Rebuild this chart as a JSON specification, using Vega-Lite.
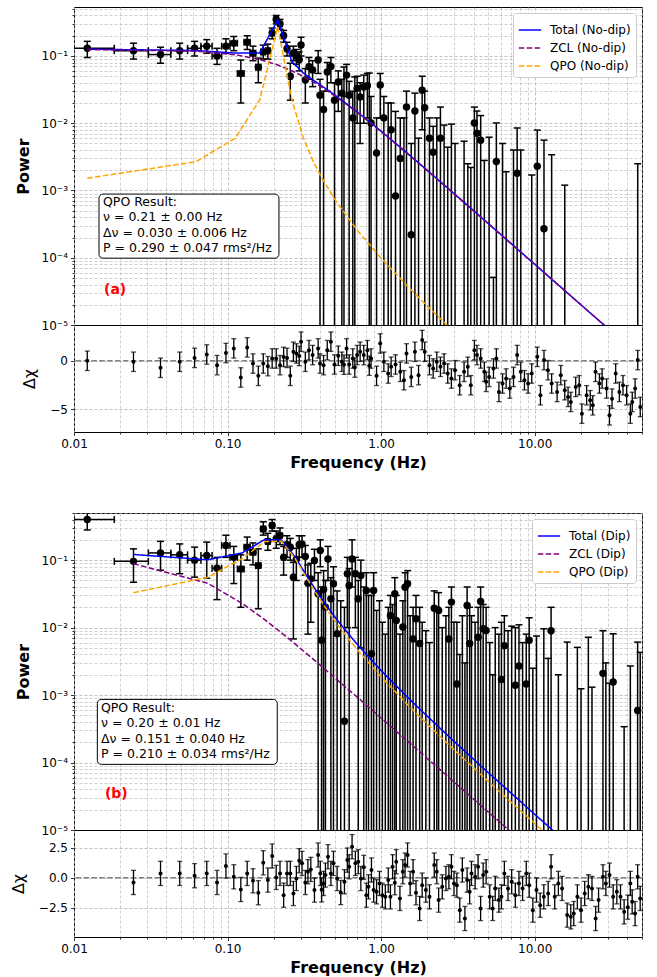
{
"$schema": "https://vega.github.io/schema/vega-lite/v6.json",
"padding": {"left": 9, "top": 2, "right": 5, "bottom": 2},
"config": {
  "font": "DejaVu Sans",
  "view": {"stroke": "black", "strokeWidth": 1},
  "axis": {"grid": true, "gridColor": "#b0b0b0", "gridDash": [3, 2], "gridWidth": 0.8, "domain": false, "tickColor": "black", "tickWidth": 0.8, "labelFontSize": 12, "labelColor": "black", "titleColor": "black", "labelFont": "DejaVu Sans", "titleFont": "DejaVu Sans", "labelPadding": 3}
},
"datasets": {
"a": [
{"f":0.0122,"fl":0.0061,"fh":0.0183,"p":0.13,"lo":0.095,"hi":0.165,"r":0.0,"e":1},
{"f":0.0244,"fl":0.0183,"fh":0.0305,"p":0.12,"lo":0.09,"hi":0.155,"r":-0.1,"e":1},
{"f":0.0366,"fl":0.0305,"fh":0.0427,"p":0.105,"lo":0.078,"hi":0.135,"r":-0.72,"e":1},
{"f":0.0488,"fl":0.0427,"fh":0.0549,"p":0.12,"lo":0.09,"hi":0.155,"r":-0.1,"e":1},
{"f":0.061,"fl":0.0549,"fh":0.0671,"p":0.13,"lo":0.1,"hi":0.165,"r":0.3,"e":1},
{"f":0.0732,"fl":0.0671,"fh":0.0793,"p":0.14,"lo":0.11,"hi":0.175,"r":0.65,"e":1},
{"f":0.0854,"fl":0.0793,"fh":0.0915,"p":0.1,"lo":0.075,"hi":0.13,"r":-0.45,"e":1},
{"f":0.0976,"fl":0.0915,"fh":0.1037,"p":0.14,"lo":0.11,"hi":0.18,"r":0.8,"e":1},
{"f":0.1098,"fl":0.1037,"fh":0.1159,"p":0.155,"lo":0.12,"hi":0.195,"r":1.28,"e":1},
{"f":0.122,"fl":0.1159,"fh":0.1281,"p":0.055,"lo":0.02,"hi":0.087,"r":-1.72,"e":1},
{"f":0.1342,"fl":0.1281,"fh":0.1403,"p":0.16,"lo":0.125,"hi":0.2,"r":1.38,"e":1},
{"f":0.1464,"fl":0.1403,"fh":0.1525,"p":0.11,"lo":0.085,"hi":0.14,"r":-0.28,"e":1},
{"f":0.1586,"fl":0.1525,"fh":0.1647,"p":0.068,"lo":0.04,"hi":0.093,"r":-1.55,"e":1},
{"f":0.1708,"fl":0.1647,"fh":0.1769,"p":0.115,"lo":0.09,"hi":0.145,"r":-0.28,"e":1},
{"f":0.183,"fl":0.1769,"fh":0.1891,"p":0.12,"lo":0.09,"hi":0.15,"r":-0.55,"e":1},
{"f":0.1952,"fl":0.1891,"fh":0.2013,"p":0.22,"lo":0.18,"hi":0.26,"r":0.24,"e":1},
{"f":0.2074,"fl":0.2013,"fh":0.2135,"p":0.35,"lo":0.3,"hi":0.4,"r":0.24,"e":1},
{"f":0.2196,"fl":0.2135,"fh":0.2257,"p":0.3,"lo":0.25,"hi":0.35,"r":-0.45,"e":1},
{"f":0.2318,"fl":0.2257,"fh":0.2379,"p":0.2,"lo":0.16,"hi":0.24,"r":0.4,"e":1},
{"f":0.244,"fl":0.2379,"fh":0.2501,"p":0.128,"lo":0.1,"hi":0.16,"r":0.3,"e":1},
{"f":0.2562,"fl":0.2501,"fh":0.2623,"p":0.05,"lo":0.022,"hi":0.078,"r":-1.55,"e":1},
{"f":0.2684,"fl":0.2623,"fh":0.2745,"p":0.11,"lo":0.085,"hi":0.14,"r":0.93,"e":1},
{"f":0.2806,"fl":0.2745,"fh":0.2867,"p":0.1,"lo":0.075,"hi":0.125,"r":0.76,"e":1},
{"f":0.2928,"fl":0.2867,"fh":0.2989,"p":0.088,"lo":0.06,"hi":0.115,"r":0.5,"e":1},
{"f":0.301,"p":0.146,"lo":0.1,"hi":0.19,"r":1.97,"e":1},
{"f":0.321,"p":0.044,"lo":0.02,"hi":0.065,"r":-0.1,"e":1},
{"f":0.339,"p":0.069,"lo":0.045,"hi":0.095,"r":1.1,"e":1},
{"f":0.358,"p":0.062,"lo":0.035,"hi":0.085,"r":0.59,"e":1},
{"f":0.389,"p":0.087,"lo":0.055,"hi":0.12,"r":1.28,"e":1},
{"f":0.4,"p":0.026,"lo":1e-7,"hi":0.045,"r":-0.28,"e":1},
{"f":0.422,"p":0.016,"lo":1e-7,"hi":0.03,"r":-0.45,"e":1},
{"f":0.446,"p":0.058,"lo":0.03,"hi":0.08,"r":1.1,"e":1},
{"f":0.471,"p":0.07,"lo":0.04,"hi":0.095,"r":1.97,"e":1},
{"f":0.497,"p":0.022,"lo":1e-7,"hi":0.04,"r":-0.38,"e":1},
{"f":0.526,"p":0.041,"lo":0.015,"hi":0.06,"r":0.52,"e":1},
{"f":0.555,"p":0.028,"lo":1e-7,"hi":0.045,"r":-0.1,"e":1},
{"f":0.573,"lo":1e-7,"hi":0.0686,"r":-0.4,"e":1},
{"f":0.596,"p":0.052,"lo":0.025,"hi":0.075,"r":1.28,"e":1},
{"f":0.619,"p":0.026,"lo":1e-7,"hi":0.042,"r":-0.38,"e":1},
{"f":0.654,"p":0.012,"lo":1e-7,"hi":0.03,"r":0.24,"e":1},
{"f":0.674,"lo":1e-7,"hi":0.0487,"r":-0.7,"e":1},
{"f":0.698,"p":0.033,"lo":0.01,"hi":0.05,"r":0.59,"e":1},
{"f":0.73,"p":0.0245,"lo":0.005,"hi":0.04,"r":0.93,"e":1},
{"f":0.771,"p":0.0345,"lo":0.01,"hi":0.052,"r":0.59,"e":1},
{"f":0.814,"p":0.036,"lo":0.012,"hi":0.055,"r":1.1,"e":1},
{"f":0.837,"lo":1e-7,"hi":0.0558,"r":-0.5,"e":1},
{"f":0.86,"p":0.0101,"lo":1e-7,"hi":0.025,"r":0.24,"e":1},
{"f":0.934,"p":0.0036,"lo":1e-7,"hi":0.012,"r":-1.55,"e":1},
{"f":0.987,"p":0.037,"lo":0.012,"hi":0.055,"r":1.79,"e":1},
{"f":1.042,"p":0.012,"lo":1e-7,"hi":0.025,"r":-0.1,"e":1},
{"f":1.112,"lo":1e-7,"hi":0.02,"r":-1.31,"e":1},
{"f":1.162,"p":0.008,"lo":1e-7,"hi":0.02,"r":-0.62,"e":1},
{"f":1.241,"p":0.00083,"lo":1e-7,"hi":0.015,"r":-0.38,"e":1},
{"f":1.333,"p":0.003,"lo":1e-7,"hi":0.012,"r":-1.14,"e":1},
{"f":1.408,"lo":1e-7,"hi":0.012,"r":-2.0,"e":1},
{"f":1.463,"p":0.0174,"lo":1e-7,"hi":0.03,"r":0.76,"e":1},
{"f":1.571,"p":0.00022,"lo":1e-7,"hi":0.005,"r":-1.66,"e":1},
{"f":1.66,"p":0.0152,"lo":1e-7,"hi":0.028,"r":0.93,"e":1},
{"f":1.753,"lo":1e-7,"hi":0.006,"r":-1.48,"e":1},
{"f":1.851,"p":0.031,"lo":0.008,"hi":0.05,"r":2.14,"e":1},
{"f":1.923,"p":0.017,"lo":1e-7,"hi":0.03,"r":0.93,"e":1},
{"f":2.065,"p":0.006,"lo":1e-7,"hi":0.012,"r":-0.45,"e":1},
{"f":2.183,"p":0.0037,"lo":1e-7,"hi":0.009,"r":-0.79,"e":1},
{"f":2.305,"lo":1e-7,"hi":0.012,"r":-0.1,"e":1},
{"f":2.434,"p":0.006,"lo":1e-7,"hi":0.0174,"r":-0.62,"e":1},
{"f":2.571,"lo":1e-7,"hi":0.0094,"r":-0.28,"e":1},
{"f":2.715,"lo":1e-7,"hi":0.0044,"r":-1.31,"e":1},
{"f":2.869,"lo":1e-7,"hi":0.0097,"r":-1.83,"e":1},
{"f":3.03,"lo":1e-7,"hi":0.005,"r":-0.97,"e":1},
{"f":3.25,"r":-2.52,"e":1},
{"f":3.47,"lo":1e-7,"hi":0.0054,"r":-1.14,"e":1},
{"f":3.67,"lo":1e-7,"hi":0.0025,"r":-0.62,"e":1},
{"f":3.84,"lo":1e-7,"hi":0.0022,"r":-2.52,"e":1},
{"f":4.05,"p":0.0101,"lo":1e-7,"hi":0.0174,"r":1.1,"e":1},
{"f":4.21,"p":0.0071,"lo":1e-7,"hi":0.0152,"r":0.59,"e":1},
{"f":4.45,"p":0.0056,"lo":1e-7,"hi":0.013,"r":0.24,"e":1},
{"f":4.7,"lo":1e-7,"hi":0.0028,"r":-1.14,"e":1},
{"f":4.83,"r":-2.17,"e":1},
{"f":5.05,"lo":1e-7,"hi":0.0062,"r":-1.66,"e":1},
{"f":5.39,"lo":1e-7,"hi":0.000051,"r":-0.79,"e":1},
{"f":5.63,"p":0.0027,"lo":1e-7,"hi":0.0101,"r":0.24,"e":1},
{"f":5.85,"r":-3.21,"e":1},
{"f":6.18,"lo":1e-7,"hi":0.005,"r":-2.34,"e":1},
{"f":6.52,"lo":1e-7,"hi":0.0019,"r":-1.83,"e":1},
{"f":6.89,"r":-2.86,"e":1},
{"f":7.28,"lo":1e-7,"hi":0.004,"r":-1.66,"e":1},
{"f":7.69,"p":0.0018,"lo":1e-7,"hi":0.0085,"r":0.59,"e":1},
{"f":8.12,"lo":1e-7,"hi":0.004,"r":-1.14,"e":1},
{"f":8.58,"r":-2.0,"e":1},
{"f":9.06,"r":-2.34,"e":1},
{"f":9.57,"lo":1e-7,"hi":0.0017,"r":-1.31,"e":1},
{"f":10.4,"p":0.0023,"lo":1e-7,"hi":0.0079,"r":0.41,"e":1},
{"f":10.9,"r":-3.55,"e":1},
{"f":11.5,"p":0.00027,"lo":1e-7,"hi":0.0056,"r":0.07,"e":1},
{"f":12.2,"r":-0.97,"e":1},
{"f":12.9,"lo":1e-7,"hi":0.0034,"r":-2.34,"e":1},
{"f":14.0,"r":-3.21,"e":1},
{"f":14.8,"r":-1.48,"e":1},
{"f":15.7,"lo":1e-7,"hi":0.0012,"r":-3.03,"e":1},
{"f":16.5,"r":-3.72,"e":1},
{"f":17.2,"r":-4.24,"e":1},
{"f":18.5,"r":-2.69,"e":1},
{"f":19.5,"r":-2.52,"e":1},
{"f":20.3,"r":-5.45,"e":1},
{"f":21.8,"r":-3.55,"e":1},
{"f":23.0,"r":-4.07,"e":1},
{"f":23.9,"r":-4.59,"e":1},
{"f":24.9,"r":-1.14,"e":1},
{"f":26.4,"r":-2.34,"e":1},
{"f":27.5,"r":-1.83,"e":1},
{"f":29.4,"r":-2.86,"e":1},
{"f":30.7,"r":-5.62,"e":1},
{"f":31.9,"r":-3.9,"e":1},
{"f":33.7,"r":-1.31,"e":1},
{"f":35.6,"r":-3.21,"e":1},
{"f":37.6,"r":-2.52,"e":1},
{"f":39.7,"r":-3.55,"e":1},
{"f":42.0,"r":-5.45,"e":1},
{"f":43.2,"r":-4.24,"e":1},
{"f":45.1,"r":-2.86,"e":1},
{"f":46.9,"lo":1e-7,"hi":0.0025,"r":0.07,"e":1},
{"f":48.7,"r":-4.76,"e":1}
],
"b": [
{"f":0.0122,"fl":0.0061,"fh":0.0183,"p":0.4,"lo":0.28,"hi":0.52},
{"f":0.0244,"fl":0.0183,"fh":0.0305,"p":0.096,"lo":0.047,"hi":0.147,"r":-0.39,"e":1},
{"f":0.0366,"fl":0.0305,"fh":0.0427,"p":0.128,"lo":0.071,"hi":0.19,"r":0.36,"e":1},
{"f":0.0488,"fl":0.0427,"fh":0.0549,"p":0.12,"lo":0.063,"hi":0.174,"r":0.36,"e":1},
{"f":0.061,"fl":0.0549,"fh":0.0671,"p":0.1,"lo":0.056,"hi":0.156,"r":0.17,"e":1},
{"f":0.0732,"fl":0.0671,"fh":0.0793,"p":0.117,"lo":0.054,"hi":0.185,"r":0.36,"e":1},
{"f":0.0854,"fl":0.0793,"fh":0.0915,"p":0.076,"lo":0.026,"hi":0.11,"r":-0.39,"e":1},
{"f":0.0976,"fl":0.0915,"fh":0.1037,"p":0.165,"lo":0.11,"hi":0.234,"r":0.97,"e":1},
{"f":0.1098,"fl":0.1037,"fh":0.1159,"p":0.11,"lo":0.045,"hi":0.16,"r":0.08,"e":1},
{"f":0.122,"fl":0.1159,"fh":0.1281,"p":0.074,"lo":0.02,"hi":0.12,"r":-0.97,"e":1},
{"f":0.1342,"fl":0.1281,"fh":0.1403,"p":0.156,"lo":0.1,"hi":0.22,"r":0.36,"e":1},
{"f":0.1464,"fl":0.1403,"fh":0.1525,"p":0.131,"lo":0.085,"hi":0.18,"r":-0.25,"e":1},
{"f":0.1586,"fl":0.1525,"fh":0.1647,"p":0.083,"lo":0.019,"hi":0.147,"r":-1.24,"e":1},
{"f":0.1708,"fl":0.1647,"fh":0.1769,"p":0.29,"lo":0.235,"hi":0.37,"r":1.24,"e":1},
{"f":0.183,"fl":0.1769,"fh":0.1891,"p":0.189,"lo":0.14,"hi":0.25,"r":-0.19,"e":1},
{"f":0.1952,"fl":0.1891,"fh":0.2013,"p":0.326,"lo":0.27,"hi":0.4,"r":1.8,"e":1},
{"f":0.2074,"fl":0.2013,"fh":0.2135,"p":0.207,"lo":0.15,"hi":0.27,"r":0.03,"e":1},
{"f":0.2196,"fl":0.2135,"fh":0.2257,"p":0.232,"lo":0.17,"hi":0.3,"r":0.36,"e":1},
{"f":0.2318,"fl":0.2257,"fh":0.2379,"p":0.11,"lo":0.06,"hi":0.16,"r":-1.44,"e":1},
{"f":0.244,"fl":0.2379,"fh":0.2501,"p":0.169,"lo":0.11,"hi":0.23,"r":0.36,"e":1},
{"f":0.2562,"fl":0.2501,"fh":0.2623,"p":0.156,"lo":0.1,"hi":0.21,"r":0.36,"e":1},
{"f":0.2684,"fl":0.2623,"fh":0.2745,"p":0.056,"lo":0.0068,"hi":0.093,"r":-1.3,"e":1},
{"f":0.2806,"fl":0.2745,"fh":0.2867,"p":0.102,"lo":0.05,"hi":0.15,"r":-0.06,"e":1},
{"f":0.2928,"fl":0.2867,"fh":0.2989,"p":0.169,"lo":0.11,"hi":0.23,"r":1.41,"e":1},
{"f":0.3055,"p":0.174,"lo":0.11,"hi":0.23,"r":1.19,"e":1},
{"f":0.321,"p":0.113,"lo":0.06,"hi":0.165,"r":-0.39,"e":1},
{"f":0.3336,"p":0.0456,"lo":0.008,"hi":0.085,"r":0.5,"e":1},
{"f":0.3485,"p":0.0528,"lo":0.012,"hi":0.09,"r":0.69,"e":1},
{"f":0.368,"p":0.099,"lo":0.05,"hi":0.145,"r":-1.02,"e":1},
{"f":0.3889,"p":0.0317,"lo":1e-7,"hi":0.065,"r":1.88,"e":1},
{"f":0.4018,"p":0.139,"lo":0.08,"hi":0.2,"r":0.36,"e":1},
{"f":0.41,"p":0.0065,"lo":1e-7,"hi":0.04,"r":-1.0,"e":1},
{"f":0.4221,"p":0.0368,"lo":1e-7,"hi":0.07,"r":-0.47,"e":1},
{"f":0.4339,"p":0.0201,"lo":1e-7,"hi":0.05,"r":0.22,"e":1},
{"f":0.4508,"p":0.104,"lo":0.05,"hi":0.16,"r":1.74,"e":1},
{"f":0.471,"p":0.0268,"lo":1e-7,"hi":0.055,"r":0.36,"e":1},
{"f":0.4894,"p":0.0446,"lo":1e-7,"hi":0.08,"r":1.19,"e":1},
{"f":0.517,"p":0.0081,"lo":1e-7,"hi":0.035,"r":-0.06,"e":1},
{"f":0.546,"lo":1e-7,"hi":0.025,"r":-1.22,"e":1},
{"f":0.577,"p":0.00041,"lo":1e-7,"hi":0.02,"r":-0.33,"e":1},
{"f":0.6026,"p":0.0627,"lo":0.01,"hi":0.11,"r":1.46,"e":1},
{"f":0.6194,"p":0.042,"lo":1e-7,"hi":0.075,"r":0.91,"e":1},
{"f":0.647,"p":0.104,"lo":0.04,"hi":0.2,"r":2.57,"e":1},
{"f":0.6797,"p":0.0627,"lo":0.01,"hi":0.11,"r":1.19,"e":1},
{"f":0.7101,"p":0.0268,"lo":1e-7,"hi":0.05,"r":1.33,"e":1},
{"f":0.738,"p":0.059,"lo":0.005,"hi":0.1,"r":-0.06,"e":1},
{"f":0.771,"lo":1e-7,"hi":0.04,"r":0.86,"e":1},
{"f":0.8011,"p":0.0355,"lo":1e-7,"hi":0.065,"r":-1.44,"e":1},
{"f":0.8277,"lo":1e-7,"hi":0.03,"r":-0.75,"e":1},
{"f":0.865,"p":0.0041,"lo":1e-7,"hi":0.03,"r":0.64,"e":1},
{"f":0.8939,"p":0.0355,"lo":1e-7,"hi":0.065,"r":-1.02,"e":1},
{"f":0.934,"lo":1e-7,"hi":0.018,"r":-1.16,"e":1},
{"f":0.9757,"lo":1e-7,"hi":0.025,"r":-0.47,"e":1},
{"f":1.019,"lo":1e-7,"hi":0.012,"r":-1.44,"e":1},
{"f":1.065,"lo":1e-7,"hi":0.008,"r":-1.58,"e":1},
{"f":1.113,"lo":1e-7,"hi":0.02,"r":-0.19,"e":1},
{"f":1.15,"p":0.0151,"lo":1e-7,"hi":0.03,"r":-1.58,"e":1},
{"f":1.188,"lo":1e-7,"hi":0.022,"r":0.91,"e":1},
{"f":1.228,"p":0.0317,"lo":1e-7,"hi":0.055,"r":-0.41,"e":1},
{"f":1.255,"p":0.0128,"lo":1e-7,"hi":0.03,"r":1.33,"e":1},
{"f":1.326,"lo":1e-7,"hi":0.008,"r":-1.71,"e":1},
{"f":1.385,"p":0.0102,"lo":1e-7,"hi":0.025,"r":0.5,"e":1},
{"f":1.432,"p":0.0398,"lo":1e-7,"hi":0.065,"r":1.05,"e":1},
{"f":1.487,"p":0.0446,"lo":1e-7,"hi":0.07,"r":1.88,"e":1},
{"f":1.545,"lo":1e-7,"hi":0.015,"r":-0.47,"e":1},
{"f":1.615,"p":0.0068,"lo":1e-7,"hi":0.02,"r":0.5,"e":1},
{"f":1.687,"p":0.0135,"lo":1e-7,"hi":0.03,"r":-1.24,"e":1},
{"f":1.782,"p":0.0058,"lo":1e-7,"hi":0.02,"r":-2.54,"e":1},
{"f":1.851,"lo":1e-7,"hi":0.012,"r":-0.61,"e":1},
{"f":1.956,"lo":1e-7,"hi":0.009,"r":-1.02,"e":1},
{"f":2.066,"lo":1e-7,"hi":0.006,"r":-1.58,"e":1},
{"f":2.218,"p":0.0194,"lo":1e-7,"hi":0.035,"r":1.05,"e":1},
{"f":2.305,"lo":1e-7,"hi":0.02,"r":0.5,"e":1},
{"f":2.369,"p":0.018,"lo":1e-7,"hi":0.033,"r":-1.85,"e":1},
{"f":2.502,"lo":1e-7,"hi":0.01,"r":-0.75,"e":1},
{"f":2.643,"lo":1e-7,"hi":0.015,"r":-0.06,"e":1},
{"f":2.762,"p":0.0068,"lo":1e-7,"hi":0.02,"r":0.08,"e":1},
{"f":2.87,"p":0.0239,"lo":1e-7,"hi":0.04,"r":0.91,"e":1},
{"f":2.982,"lo":1e-7,"hi":0.012,"r":-0.47,"e":1},
{"f":3.115,"p":0.00146,"lo":1e-7,"hi":0.012,"r":-0.61,"e":1},
{"f":3.254,"lo":1e-7,"hi":0.004,"r":-2.68,"e":1},
{"f":3.381,"lo":1e-7,"hi":0.015,"r":0.64,"e":1},
{"f":3.513,"lo":1e-7,"hi":0.003,"r":-3.37,"e":1},
{"f":3.631,"p":0.0213,"lo":1e-7,"hi":0.04,"r":-0.19,"e":1},
{"f":3.773,"p":0.0058,"lo":1e-7,"hi":0.02,"r":-1.16,"e":1},
{"f":3.877,"lo":1e-7,"hi":0.015,"r":0.36,"e":1},
{"f":4.095,"lo":1e-7,"hi":0.012,"r":0.08,"e":1},
{"f":4.28,"p":0.0072,"lo":1e-7,"hi":0.02,"r":0.91,"e":1},
{"f":4.446,"p":0.0244,"lo":1e-7,"hi":0.04,"r":-2.54,"e":1},
{"f":4.62,"p":0.0096,"lo":1e-7,"hi":0.022,"r":0.22,"e":1},
{"f":4.828,"p":0.0091,"lo":1e-7,"hi":0.02,"r":0.5,"e":1},
{"f":5.1,"lo":1e-7,"hi":0.006,"r":-1.58,"e":1},
{"f":5.328,"lo":1e-7,"hi":0.002,"r":-2.54,"e":1},
{"f":5.536,"lo":1e-7,"hi":0.01,"r":-0.88,"e":1},
{"f":5.847,"lo":1e-7,"hi":0.008,"r":-1.85,"e":1},
{"f":6.076,"p":0.0017,"lo":1e-7,"hi":0.012,"r":-1.58,"e":1},
{"f":6.348,"p":0.0054,"lo":1e-7,"hi":0.015,"r":0.36,"e":1},
{"f":6.706,"lo":1e-7,"hi":0.009,"r":-0.88,"e":1},
{"f":7.084,"lo":1e-7,"hi":0.0105,"r":-0.33,"e":1},
{"f":7.482,"p":0.0014,"lo":1e-7,"hi":0.01,"r":-1.44,"e":1},
{"f":7.902,"p":0.0027,"lo":1e-7,"hi":0.011,"r":-0.47,"e":1},
{"f":8.345,"lo":1e-7,"hi":0.006,"r":-0.88,"e":1},
{"f":8.816,"p":0.00146,"lo":1e-7,"hi":0.008,"r":0.36,"e":1},
{"f":9.21,"p":0.0065,"lo":1e-7,"hi":0.014,"r":-0.61,"e":1},
{"f":9.73,"lo":1e-7,"hi":0.0025,"r":-2.68,"e":1},
{"f":10.28,"lo":1e-7,"hi":0.0075,"r":-1.02,"e":1},
{"f":10.86,"r":-2.27,"e":1},
{"f":11.47,"lo":1e-7,"hi":0.0096,"r":-1.58,"e":1},
{"f":12.25,"lo":1e-7,"hi":0.0035,"r":-1.3,"e":1},
{"f":12.79,"p":0.009,"lo":1e-7,"hi":0.02,"r":0.91,"e":1},
{"f":13.51,"r":-1.58,"e":1},
{"f":14.27,"lo":1e-7,"hi":0.002,"r":-0.47,"e":1},
{"f":15.08,"r":-0.88,"e":1},
{"f":16.28,"lo":1e-7,"hi":0.0061,"r":-3.09,"e":1},
{"f":17.19,"r":-3.23,"e":1},
{"f":17.97,"r":-2.96,"e":1},
{"f":18.97,"lo":1e-7,"hi":0.0051,"r":-1.58,"e":1},
{"f":20.04,"lo":1e-7,"hi":0.00124,"r":-2.68,"e":1},
{"f":21.17,"r":-1.3,"e":1},
{"f":22.36,"lo":1e-7,"hi":0.0072,"r":-0.75,"e":1},
{"f":23.62,"lo":1e-7,"hi":0.00131,"r":-0.88,"e":1},
{"f":24.95,"r":-3.37,"e":1},
{"f":26.07,"r":-1.85,"e":1},
{"f":27.84,"p":0.0021,"lo":1e-7,"hi":0.009,"r":0.08,"e":1},
{"f":29.08,"lo":1e-7,"hi":0.003,"r":-0.47,"e":1},
{"f":30.72,"lo":1e-7,"hi":0.0015,"r":0.22,"e":1},
{"f":32.45,"p":0.00156,"lo":1e-7,"hi":0.0081,"r":-1.58,"e":1},
{"f":34.28,"r":-1.16,"e":1},
{"f":36.22,"r":-1.58,"e":1},
{"f":38.24,"lo":1e-7,"hi":0.00034,"r":-2.82,"e":1},
{"f":40.4,"r":-2.43,"e":1},
{"f":41.98,"lo":1e-7,"hi":0.0027,"r":-0.47,"e":1},
{"f":43.15,"r":-1.99,"e":1},
{"f":45.08,"r":-2.96,"e":1},
{"f":46.84,"p":0.00059,"lo":1e-7,"hi":0.0061,"r":0.08,"e":1},
{"f":48.67,"lo":1e-7,"hi":0.0043,"r":-1.71,"e":1}
],
"ma": [
{"s":"Total (No-dip)","f":0.0122,"m":0.1262},{"s":"Total (No-dip)","f":0.0622,"m":0.1206},{"s":"Total (No-dip)","f":0.1122,"m":0.1105},{"s":"Total (No-dip)","f":0.1622,"m":0.111},{"s":"Total (No-dip)","f":0.2122,"m":0.344},{"s":"Total (No-dip)","f":0.2622,"m":0.0827},{"s":"Total (No-dip)","f":0.3122,"m":0.0555},{"s":"Total (No-dip)","f":0.3622,"m":0.0437},{"s":"Total (No-dip)","f":0.4122,"m":0.0357},{"s":"Total (No-dip)","f":0.5122,"m":0.0252},{"s":"Total (No-dip)","f":0.7,"m":0.0147},{"s":"Total (No-dip)","f":1,"m":0.00762},{"s":"Total (No-dip)","f":1.5,"m":0.0035},{"s":"Total (No-dip)","f":2,"m":0.00199},{"s":"Total (No-dip)","f":3,"m":0.000891},{"s":"Total (No-dip)","f":5,"m":0.000321},{"s":"Total (No-dip)","f":10,"m":0.00008},{"s":"Total (No-dip)","f":20,"m":0.00002},{"s":"Total (No-dip)","f":30,"m":0.0000089},{"s":"Total (No-dip)","f":50,"m":0.0000032},
{"s":"ZCL (No-dip)","f":0.0122,"m":0.1247},{"s":"ZCL (No-dip)","f":0.0622,"m":0.1179},{"s":"ZCL (No-dip)","f":0.1122,"m":0.1045},{"s":"ZCL (No-dip)","f":0.1622,"m":0.0886},{"s":"ZCL (No-dip)","f":0.2122,"m":0.0734},{"s":"ZCL (No-dip)","f":0.2622,"m":0.0603},{"s":"ZCL (No-dip)","f":0.3122,"m":0.0495},{"s":"ZCL (No-dip)","f":0.3622,"m":0.041},{"s":"ZCL (No-dip)","f":0.4122,"m":0.0342},{"s":"ZCL (No-dip)","f":0.5122,"m":0.0245},{"s":"ZCL (No-dip)","f":0.7,"m":0.01444},{"s":"ZCL (No-dip)","f":1,"m":0.00752},{"s":"ZCL (No-dip)","f":1.5,"m":0.00346},{"s":"ZCL (No-dip)","f":2,"m":0.00197},{"s":"ZCL (No-dip)","f":3,"m":0.000883},{"s":"ZCL (No-dip)","f":5,"m":0.000319},{"s":"ZCL (No-dip)","f":10,"m":0.00008},{"s":"ZCL (No-dip)","f":20,"m":0.00002},{"s":"ZCL (No-dip)","f":30,"m":0.00000889},{"s":"ZCL (No-dip)","f":50,"m":0.0000032},
{"s":"QPO (No-dip)","f":0.0122,"m":0.00152},{"s":"QPO (No-dip)","f":0.0622,"m":0.00268},{"s":"QPO (No-dip)","f":0.1122,"m":0.00597},{"s":"QPO (No-dip)","f":0.1622,"m":0.0224},{"s":"QPO (No-dip)","f":0.2122,"m":0.271},{"s":"QPO (No-dip)","f":0.2622,"m":0.0224},{"s":"QPO (No-dip)","f":0.3122,"m":0.00597},{"s":"QPO (No-dip)","f":0.3622,"m":0.00268},{"s":"QPO (No-dip)","f":0.4122,"m":0.00152},{"s":"QPO (No-dip)","f":0.5122,"m":0.000676},{"s":"QPO (No-dip)","f":0.7,"m":0.000256},{"s":"QPO (No-dip)","f":1,"m":0.0000983},{"s":"QPO (No-dip)","f":1.5,"m":0.0000368},{"s":"QPO (No-dip)","f":2,"m":0.0000191},{"s":"QPO (No-dip)","f":3,"m":0.00000785},{"s":"QPO (No-dip)","f":5,"m":0.0000027}
],
"mb": [
{"s":"Total (Dip)","f":0.0244,"m":0.1214},{"s":"Total (Dip)","f":0.0744,"m":0.1013},{"s":"Total (Dip)","f":0.1244,"m":0.128},{"s":"Total (Dip)","f":0.1744,"m":0.202},{"s":"Total (Dip)","f":0.2244,"m":0.199},{"s":"Total (Dip)","f":0.2744,"m":0.1126},{"s":"Total (Dip)","f":0.3244,"m":0.0609},{"s":"Total (Dip)","f":0.3744,"m":0.0364},{"s":"Total (Dip)","f":0.4244,"m":0.0239},{"s":"Total (Dip)","f":0.5244,"m":0.01246},{"s":"Total (Dip)","f":0.7,"m":0.00562},{"s":"Total (Dip)","f":1,"m":0.00231},{"s":"Total (Dip)","f":1.5,"m":0.000912},{"s":"Total (Dip)","f":2,"m":0.000485},{"s":"Total (Dip)","f":3,"m":0.000204},{"s":"Total (Dip)","f":5,"m":0.0000705},{"s":"Total (Dip)","f":10,"m":0.0000171},{"s":"Total (Dip)","f":20,"m":0.00000422},{"s":"Total (Dip)","f":50,"m":0.00000067},
{"s":"ZCL (Dip)","f":0.0244,"m":0.0885},{"s":"ZCL (Dip)","f":0.0744,"m":0.0454},{"s":"ZCL (Dip)","f":0.1244,"m":0.0229},{"s":"ZCL (Dip)","f":0.1744,"m":0.01313},{"s":"ZCL (Dip)","f":0.2244,"m":0.00837},{"s":"ZCL (Dip)","f":0.2744,"m":0.00575},{"s":"ZCL (Dip)","f":0.3244,"m":0.00419},{"s":"ZCL (Dip)","f":0.3744,"m":0.00318},{"s":"ZCL (Dip)","f":0.4244,"m":0.00249},{"s":"ZCL (Dip)","f":0.5244,"m":0.00164},{"s":"ZCL (Dip)","f":0.7,"m":0.000929},{"s":"ZCL (Dip)","f":1,"m":0.000458},{"s":"ZCL (Dip)","f":1.5,"m":0.000204},{"s":"ZCL (Dip)","f":2,"m":0.000115},{"s":"ZCL (Dip)","f":3,"m":0.000051},{"s":"ZCL (Dip)","f":5,"m":0.0000184},{"s":"ZCL (Dip)","f":10,"m":0.0000046},{"s":"ZCL (Dip)","f":50,"m":0.000000184},
{"s":"QPO (Dip)","f":0.0244,"m":0.0329},{"s":"QPO (Dip)","f":0.0744,"m":0.0559},{"s":"QPO (Dip)","f":0.1244,"m":0.1051},{"s":"QPO (Dip)","f":0.1744,"m":0.1889},{"s":"QPO (Dip)","f":0.2244,"m":0.1906},{"s":"QPO (Dip)","f":0.2744,"m":0.1068},{"s":"QPO (Dip)","f":0.3244,"m":0.0567},{"s":"QPO (Dip)","f":0.3744,"m":0.0332},{"s":"QPO (Dip)","f":0.4244,"m":0.0214},{"s":"QPO (Dip)","f":0.5244,"m":0.01082},{"s":"QPO (Dip)","f":0.7,"m":0.00469},{"s":"QPO (Dip)","f":1,"m":0.001856},{"s":"QPO (Dip)","f":1.5,"m":0.000708},{"s":"QPO (Dip)","f":2,"m":0.00037},{"s":"QPO (Dip)","f":3,"m":0.000153},{"s":"QPO (Dip)","f":5,"m":0.0000521},{"s":"QPO (Dip)","f":10,"m":0.0000125},{"s":"QPO (Dip)","f":20,"m":0.00000307},{"s":"QPO (Dip)","f":50,"m":0.000000483}
]
},
"spacing": 35,
"resolve": {"scale": {"x": "independent", "y": "independent", "color": "independent", "strokeDash": "independent"}, "legend": {"color": "independent", "strokeDash": "independent"}},
"vconcat": [
{
"spacing": 0,
"bounds": "flush",
"resolve": {"scale": {"x": "independent", "y": "independent", "color": "independent", "strokeDash": "independent"}, "legend": {"color": "independent", "strokeDash": "independent"}},
"vconcat": [
{
"width": 568, "height": 318,
"data": {"name": "a"},
"layer": [
{"transform": [{"filter": "isValid(datum.hi)"}],
 "mark": {"type": "rule", "color": "black", "strokeWidth": 1.5, "clip": true},
 "encoding": {
  "x": {"field": "f", "type": "quantitative", "scale": {"type": "log", "domain": [0.01, 50], "nice": false},
        "axis": {"values": [0.01,0.02,0.03,0.04,0.05,0.06,0.07,0.08,0.09,0.1,0.2,0.3,0.4,0.5,0.6,0.7,0.8,0.9,1,2,3,4,5,6,7,8,9,10,20,30,40,50], "labels": false, "ticks": false, "title": null,
                 "gridOpacity": {"condition": {"test": "abs(log(datum.value)/LN10-round(log(datum.value)/LN10))<0.001", "value": 1}, "value": 0.75}}},
  "y": {"field": "lo", "type": "quantitative", "scale": {"type": "log", "domain": [0.00001, 0.535], "nice": false},
        "axis": {"values": [0.00001,0.00002,0.00003,0.00004,0.00005,0.00006,0.00007,0.00008,0.00009,0.0001,0.0002,0.0003,0.0004,0.0005,0.0006,0.0007,0.0008,0.0009,0.001,0.002,0.003,0.004,0.005,0.006,0.007,0.008,0.009,0.01,0.02,0.03,0.04,0.05,0.06,0.07,0.08,0.09,0.1,0.2,0.3,0.4,0.5],
                 "labelExpr": "abs(log(datum.value)/LN10-round(log(datum.value)/LN10))<0.001 ? '10' + ['⁻⁵','⁻⁴','⁻³','⁻²','⁻¹','⁰'][round(log(datum.value)/LN10)+5] : ''",
                 "labelOverlap": false,
                 "tickSize": {"condition": {"test": "abs(log(datum.value)/LN10-round(log(datum.value)/LN10))<0.001", "value": 3.5}, "value": 2},
                 "gridOpacity": {"condition": {"test": "abs(log(datum.value)/LN10-round(log(datum.value)/LN10))<0.001", "value": 1}, "value": 0.75},
                 "title": "Power", "titleFontSize": 16, "titleFontWeight": "bold", "titlePadding": 10}},
  "y2": {"field": "hi"}
 }},
{"transform": [{"filter": "isValid(datum.fl)"}],
 "mark": {"type": "rule", "color": "black", "strokeWidth": 1.5, "clip": true},
 "encoding": {"x": {"field": "fl", "type": "quantitative"}, "x2": {"field": "fh"}, "y": {"field": "p", "type": "quantitative"}}},
{"transform": [{"filter": "isValid(datum.fl)"}],
 "mark": {"type": "tick", "orient": "vertical", "size": 7, "thickness": 1.5, "color": "black", "opacity": 1, "clip": true},
 "encoding": {"x": {"field": "fh", "type": "quantitative"}, "y": {"field": "p", "type": "quantitative"}}},
{"transform": [{"filter": "isValid(datum.fl)"}],
 "mark": {"type": "tick", "orient": "vertical", "size": 7, "thickness": 1.5, "color": "black", "opacity": 1, "clip": true},
 "encoding": {"x": {"field": "fl", "type": "quantitative"}, "y": {"field": "p", "type": "quantitative"}}},
{"transform": [{"filter": "isValid(datum.lo) && datum.lo >= 0.00001"}],
 "mark": {"type": "tick", "orient": "horizontal", "size": 7, "thickness": 1.5, "color": "black", "opacity": 1, "clip": true},
 "encoding": {"x": {"field": "f", "type": "quantitative"}, "y": {"field": "lo", "type": "quantitative"}}},
{"transform": [{"filter": "isValid(datum.hi)"}],
 "mark": {"type": "tick", "orient": "horizontal", "size": 7, "thickness": 1.5, "color": "black", "opacity": 1, "clip": true},
 "encoding": {"x": {"field": "f", "type": "quantitative"}, "y": {"field": "hi", "type": "quantitative"}}},
{"transform": [{"filter": "isValid(datum.p)"}],
 "mark": {"type": "circle", "size": 55, "color": "black", "opacity": 1, "clip": true},
 "encoding": {"x": {"field": "f", "type": "quantitative"}, "y": {"field": "p", "type": "quantitative"}}},
{"data": {"name": "ma"},
 "mark": {"type": "line", "strokeWidth": 1.5, "clip": true},
 "encoding": {
  "x": {"field": "f", "type": "quantitative"},
  "y": {"field": "m", "type": "quantitative"},
  "color": {"field": "s", "type": "nominal", "scale": {"domain": ["Total (No-dip)", "ZCL (No-dip)", "QPO (No-dip)"], "range": ["#0000ff", "#800080", "#ffa500"]},
            "legend": {"title": null, "orient": "top-right", "offset": 6, "fillColor": "white", "strokeColor": "#cccccc", "cornerRadius": 3, "padding": 5, "labelFontSize": 12, "symbolType": "stroke", "symbolStrokeWidth": 1.5, "symbolSize": 500, "rowPadding": -3, "labelOffset": 8, "labelLimit": 0}},
  "strokeDash": {"field": "s", "type": "nominal", "scale": {"domain": ["Total (No-dip)", "ZCL (No-dip)", "QPO (No-dip)"], "range": [[1, 0], [5.5, 2.4], [5.5, 2.4]]},
            "legend": {"title": null, "orient": "top-right", "offset": 6, "fillColor": "white", "strokeColor": "#cccccc", "cornerRadius": 3, "padding": 5, "labelFontSize": 12, "symbolType": "stroke", "symbolStrokeWidth": 1.5, "symbolSize": 500, "rowPadding": -3, "labelOffset": 8, "labelLimit": 0}}
 }},
{"data": {"values": [{}]},
 "mark": {"type": "rect", "fill": "white", "stroke": "black", "strokeWidth": 1, "cornerRadius": 4},
 "encoding": {"x": {"datum": 0.01455}, "x2": {"datum": 0.2161}, "y": {"datum": 0.000884}, "y2": {"datum": 0.0000986}}},
{"data": {"values": [{}]},
 "mark": {"type": "text", "text": ["QPO Result:", "ν = 0.21 ± 0.00 Hz", "Δν = 0.030 ± 0.006 Hz", "P = 0.290 ± 0.047 rms²/Hz"], "align": "left", "baseline": "top", "fontSize": 12.5, "lineHeight": 15.3, "color": "black"},
 "encoding": {"x": {"datum": 0.01545}, "y": {"datum": 0.000826}}},
{"data": {"values": [{}]},
 "mark": {"type": "text", "text": "(a)", "align": "left", "baseline": "middle", "fontSize": 14, "fontWeight": "bold", "color": "#ff0000"},
 "encoding": {"x": {"datum": 0.01568}, "y": {"datum": 0.000033}}}
]
},
{
"width": 568, "height": 107,
"data": {"name": "a"},
"layer": [
{"data": {"values": [{}]},
 "mark": {"type": "rule", "color": "#808080", "strokeDash": [5.5, 2.4], "strokeWidth": 1.5},
 "encoding": {"y": {"datum": 0}}},
{"transform": [{"filter": "isValid(datum.r)"}],
 "mark": {"type": "errorbar", "ticks": {"size": 5, "thickness": 1.3, "color": "black"}, "rule": {"strokeWidth": 1.3, "color": "black"}, "color": "black"},
 "encoding": {
  "x": {"field": "f", "type": "quantitative", "scale": {"type": "log", "domain": [0.01, 50], "nice": false},
        "axis": {"values": [0.01,0.02,0.03,0.04,0.05,0.06,0.07,0.08,0.09,0.1,0.2,0.3,0.4,0.5,0.6,0.7,0.8,0.9,1,2,3,4,5,6,7,8,9,10,20,30,40,50],
                 "labelExpr": "abs(log(datum.value)/LN10-round(log(datum.value)/LN10))<0.001 ? format(datum.value, '.2f') : ''",
                 "labelFlush": false, "labelOverlap": false,
                 "tickSize": {"condition": {"test": "abs(log(datum.value)/LN10-round(log(datum.value)/LN10))<0.001", "value": 3.5}, "value": 2},
                 "gridOpacity": {"condition": {"test": "abs(log(datum.value)/LN10-round(log(datum.value)/LN10))<0.001", "value": 1}, "value": 0.75},
                 "title": "Frequency (Hz)", "titleFontSize": 16, "titleFontWeight": "bold", "titlePadding": 5}},
  "y": {"field": "r", "type": "quantitative", "scale": {"domain": [-7.34, 3.69], "nice": false, "zero": false},
        "axis": {"values": [-5, 0], "format": "d", "tickSize": 3.5, "title": "Δχ", "titleFontSize": 16, "titleFontWeight": "normal", "titlePadding": 12}},
  "yError": {"field": "e"}
 }},
{"transform": [{"filter": "isValid(datum.r)"}],
 "mark": {"type": "circle", "size": 16, "color": "black", "opacity": 1},
 "encoding": {"x": {"field": "f", "type": "quantitative"}, "y": {"field": "r", "type": "quantitative"}}}
]
}
]
},
{
"spacing": 0,
"bounds": "flush",
"resolve": {"scale": {"x": "independent", "y": "independent", "color": "independent", "strokeDash": "independent"}, "legend": {"color": "independent", "strokeDash": "independent"}},
"vconcat": [
{
"width": 568, "height": 317,
"data": {"name": "b"},
"layer": [
{"transform": [{"filter": "isValid(datum.hi)"}],
 "mark": {"type": "rule", "color": "black", "strokeWidth": 1.5, "clip": true},
 "encoding": {
  "x": {"field": "f", "type": "quantitative", "scale": {"type": "log", "domain": [0.01, 50], "nice": false},
        "axis": {"values": [0.01,0.02,0.03,0.04,0.05,0.06,0.07,0.08,0.09,0.1,0.2,0.3,0.4,0.5,0.6,0.7,0.8,0.9,1,2,3,4,5,6,7,8,9,10,20,30,40,50], "labels": false, "ticks": false, "title": null,
                 "gridOpacity": {"condition": {"test": "abs(log(datum.value)/LN10-round(log(datum.value)/LN10))<0.001", "value": 1}, "value": 0.75}}},
  "y": {"field": "lo", "type": "quantitative", "scale": {"type": "log", "domain": [0.00001, 0.5], "nice": false},
        "axis": {"values": [0.00001,0.00002,0.00003,0.00004,0.00005,0.00006,0.00007,0.00008,0.00009,0.0001,0.0002,0.0003,0.0004,0.0005,0.0006,0.0007,0.0008,0.0009,0.001,0.002,0.003,0.004,0.005,0.006,0.007,0.008,0.009,0.01,0.02,0.03,0.04,0.05,0.06,0.07,0.08,0.09,0.1,0.2,0.3,0.4,0.5],
                 "labelExpr": "abs(log(datum.value)/LN10-round(log(datum.value)/LN10))<0.001 ? '10' + ['⁻⁵','⁻⁴','⁻³','⁻²','⁻¹','⁰'][round(log(datum.value)/LN10)+5] : ''",
                 "labelOverlap": false,
                 "tickSize": {"condition": {"test": "abs(log(datum.value)/LN10-round(log(datum.value)/LN10))<0.001", "value": 3.5}, "value": 2},
                 "gridOpacity": {"condition": {"test": "abs(log(datum.value)/LN10-round(log(datum.value)/LN10))<0.001", "value": 1}, "value": 0.75},
                 "title": "Power", "titleFontSize": 16, "titleFontWeight": "bold", "titlePadding": 10}},
  "y2": {"field": "hi"}
 }},
{"transform": [{"filter": "isValid(datum.fl)"}],
 "mark": {"type": "rule", "color": "black", "strokeWidth": 1.5, "clip": true},
 "encoding": {"x": {"field": "fl", "type": "quantitative"}, "x2": {"field": "fh"}, "y": {"field": "p", "type": "quantitative"}}},
{"transform": [{"filter": "isValid(datum.fl)"}],
 "mark": {"type": "tick", "orient": "vertical", "size": 7, "thickness": 1.5, "color": "black", "opacity": 1, "clip": true},
 "encoding": {"x": {"field": "fh", "type": "quantitative"}, "y": {"field": "p", "type": "quantitative"}}},
{"transform": [{"filter": "isValid(datum.fl)"}],
 "mark": {"type": "tick", "orient": "vertical", "size": 7, "thickness": 1.5, "color": "black", "opacity": 1, "clip": true},
 "encoding": {"x": {"field": "fl", "type": "quantitative"}, "y": {"field": "p", "type": "quantitative"}}},
{"transform": [{"filter": "isValid(datum.lo) && datum.lo >= 0.00001"}],
 "mark": {"type": "tick", "orient": "horizontal", "size": 7, "thickness": 1.5, "color": "black", "opacity": 1, "clip": true},
 "encoding": {"x": {"field": "f", "type": "quantitative"}, "y": {"field": "lo", "type": "quantitative"}}},
{"transform": [{"filter": "isValid(datum.hi)"}],
 "mark": {"type": "tick", "orient": "horizontal", "size": 7, "thickness": 1.5, "color": "black", "opacity": 1, "clip": true},
 "encoding": {"x": {"field": "f", "type": "quantitative"}, "y": {"field": "hi", "type": "quantitative"}}},
{"transform": [{"filter": "isValid(datum.p)"}],
 "mark": {"type": "circle", "size": 55, "color": "black", "opacity": 1, "clip": true},
 "encoding": {"x": {"field": "f", "type": "quantitative"}, "y": {"field": "p", "type": "quantitative"}}},
{"data": {"name": "mb"},
 "mark": {"type": "line", "strokeWidth": 1.5, "clip": true},
 "encoding": {
  "x": {"field": "f", "type": "quantitative"},
  "y": {"field": "m", "type": "quantitative"},
  "color": {"field": "s", "type": "nominal", "scale": {"domain": ["Total (Dip)", "ZCL (Dip)", "QPO (Dip)"], "range": ["#0000ff", "#800080", "#ffa500"]},
            "legend": {"title": null, "orient": "top-right", "offset": 6, "fillColor": "white", "strokeColor": "#cccccc", "cornerRadius": 3, "padding": 5, "labelFontSize": 12, "symbolType": "stroke", "symbolStrokeWidth": 1.5, "symbolSize": 500, "rowPadding": -3, "labelOffset": 8, "labelLimit": 0}},
  "strokeDash": {"field": "s", "type": "nominal", "scale": {"domain": ["Total (Dip)", "ZCL (Dip)", "QPO (Dip)"], "range": [[1, 0], [5.5, 2.4], [5.5, 2.4]]},
            "legend": {"title": null, "orient": "top-right", "offset": 6, "fillColor": "white", "strokeColor": "#cccccc", "cornerRadius": 3, "padding": 5, "labelFontSize": 12, "symbolType": "stroke", "symbolStrokeWidth": 1.5, "symbolSize": 500, "rowPadding": -3, "labelOffset": 8, "labelLimit": 0}}
 }},
{"data": {"values": [{}]},
 "mark": {"type": "rect", "fill": "white", "stroke": "black", "strokeWidth": 1, "cornerRadius": 4},
 "encoding": {"x": {"datum": 0.01419}, "x2": {"datum": 0.2107}, "y": {"datum": 0.000863}, "y2": {"datum": 0.000094}}},
{"data": {"values": [{}]},
 "mark": {"type": "text", "text": ["QPO Result:", "ν = 0.20 ± 0.01 Hz", "Δν = 0.151 ± 0.040 Hz", "P = 0.210 ± 0.034 rms²/Hz"], "align": "left", "baseline": "top", "fontSize": 12.5, "lineHeight": 15.3, "color": "black"},
 "encoding": {"x": {"datum": 0.01499}, "y": {"datum": 0.000787}}},
{"data": {"values": [{}]},
 "mark": {"type": "text", "text": "(b)", "align": "left", "baseline": "middle", "fontSize": 14, "fontWeight": "bold", "color": "#ff0000"},
 "encoding": {"x": {"datum": 0.0159}, "y": {"datum": 0.000034}}}
]
},
{
"width": 568, "height": 107,
"data": {"name": "b"},
"layer": [
{"data": {"values": [{}]},
 "mark": {"type": "rule", "color": "#808080", "strokeDash": [5.5, 2.4], "strokeWidth": 1.5},
 "encoding": {"y": {"datum": 0}}},
{"transform": [{"filter": "isValid(datum.r)"}],
 "mark": {"type": "errorbar", "ticks": {"size": 5, "thickness": 1.3, "color": "black"}, "rule": {"strokeWidth": 1.3, "color": "black"}, "color": "black"},
 "encoding": {
  "x": {"field": "f", "type": "quantitative", "scale": {"type": "log", "domain": [0.01, 50], "nice": false},
        "axis": {"values": [0.01,0.02,0.03,0.04,0.05,0.06,0.07,0.08,0.09,0.1,0.2,0.3,0.4,0.5,0.6,0.7,0.8,0.9,1,2,3,4,5,6,7,8,9,10,20,30,40,50],
                 "labelExpr": "abs(log(datum.value)/LN10-round(log(datum.value)/LN10))<0.001 ? format(datum.value, '.2f') : ''",
                 "labelFlush": false, "labelOverlap": false,
                 "tickSize": {"condition": {"test": "abs(log(datum.value)/LN10-round(log(datum.value)/LN10))<0.001", "value": 3.5}, "value": 2},
                 "gridOpacity": {"condition": {"test": "abs(log(datum.value)/LN10-round(log(datum.value)/LN10))<0.001", "value": 1}, "value": 0.75},
                 "title": "Frequency (Hz)", "titleFontSize": 16, "titleFontWeight": "bold", "titlePadding": 5}},
  "y": {"field": "r", "type": "quantitative", "scale": {"domain": [-4.9, 3.95], "nice": false, "zero": false},
        "axis": {"values": [-2.5, 0, 2.5], "format": ".1f", "tickSize": 3.5, "title": "Δχ", "titleFontSize": 16, "titleFontWeight": "normal", "titlePadding": 12}},
  "yError": {"field": "e"}
 }},
{"transform": [{"filter": "isValid(datum.r)"}],
 "mark": {"type": "circle", "size": 16, "color": "black", "opacity": 1},
 "encoding": {"x": {"field": "f", "type": "quantitative"}, "y": {"field": "r", "type": "quantitative"}}}
]
}
]
}
]
}
